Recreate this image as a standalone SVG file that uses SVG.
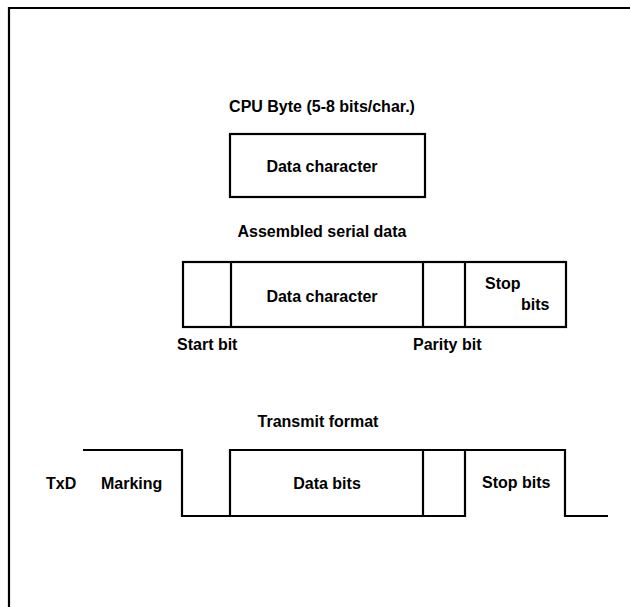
<svg xmlns="http://www.w3.org/2000/svg" width="630" height="607" viewBox="0 0 630 607">
<style>
  .ln { fill: none; stroke: #000; stroke-width: 2.2; }
  .t { font-family: "Liberation Sans", Arial, sans-serif; font-weight: bold; font-size: 16px; fill: #000; }
  .m { text-anchor: middle; }
</style>
<rect width="630" height="607" fill="#fff"/>
<g id="frame"><path class="ln" d="M630,8 H9 V607"/></g>
<g id="cpu-byte">
  <text class="t m" x="322" y="112">CPU Byte (5-8 bits/char.)</text>
  <rect class="ln" x="230" y="134" width="195" height="63"/>
  <text class="t m" x="322" y="172">Data character</text>
</g>
<g id="assembled">
  <text class="t m" x="322" y="237">Assembled serial data</text>
  <rect class="ln" x="183" y="262" width="383" height="65"/>
  <text class="t m" x="322" y="302">Data character</text>
  <text class="t" x="485" y="289">Stop</text>
  <text class="t" x="521" y="310">bits</text>
  <text class="t" x="177" y="350">Start bit</text>
  <text class="t" x="413" y="350">Parity bit</text>
</g>
<g id="connectors">
  <line class="ln" x1="231" y1="262" x2="231" y2="327"/>
  <line class="ln" x1="423" y1="262" x2="423" y2="327"/>
  <line class="ln" x1="465" y1="262" x2="465" y2="327"/>
</g>
<g id="transmit">
  <text class="t m" x="318" y="427">Transmit format</text>
  <path class="ln" d="M83,450 H182 V516 H230 V450 H565 V516 H608"/>
  <path class="ln" d="M230,516 H465 V450 M423,450 V516"/>
  <text class="t" x="46" y="489">TxD</text>
  <text class="t" x="101" y="489">Marking</text>
  <text class="t m" x="327" y="489">Data bits</text>
  <text class="t" x="482" y="488">Stop bits</text>
</g>
</svg>
